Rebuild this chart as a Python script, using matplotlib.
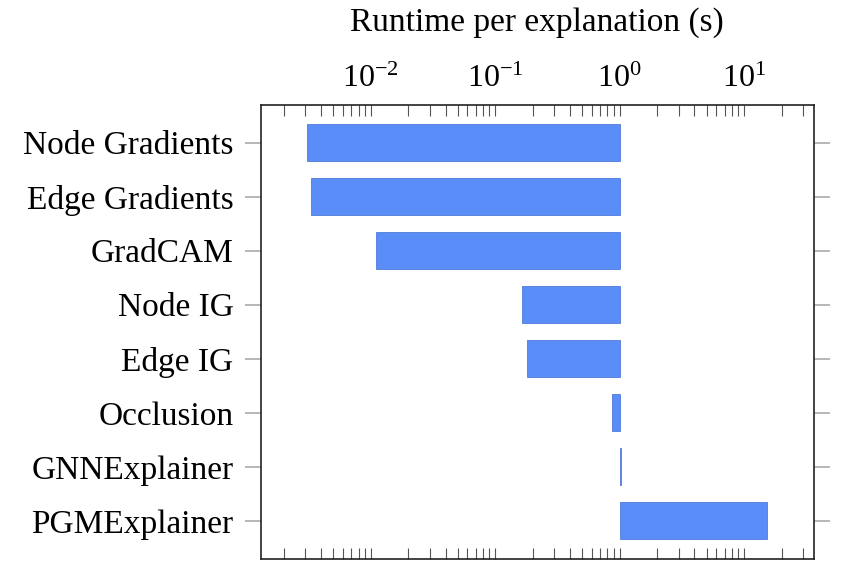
import numpy as np
import matplotlib
matplotlib.use("Agg")
import matplotlib.pyplot as plt
from matplotlib.ticker import LogLocator, NullFormatter

# runtime per explanation (s)
methods = ['Node Gradients', 'Edge Gradients', 'GradCAM', 'Node IG', 'Edge IG',
           'Occlusion', 'GNNExplainer', 'PGMExplainer']
runtimes = [0.0031, 0.0033, 0.0110, 0.164, 0.179, 0.873, 1.032, 15.3]

plt.rcParams['font.family'] = ['Liberation Serif', 'DejaVu Serif']
plt.rcParams['mathtext.fontset'] = 'cm'

fig = plt.figure(figsize=(8.45, 5.78), dpi=100)
ax = fig.add_axes([0.3085, 0.0334, 0.6545, 0.7855])

vals = np.array(runtimes)
y = np.arange(len(methods))
# bars start at 1 s and go to each value
ax.barh(y, np.abs(vals - 1), left=np.minimum(vals, 1), height=0.685,
        color='#5B8DF8', edgecolor='#4F7BD8', linewidth=0.6)

ax.set_xscale('log')
ax.set_xlim(0.00131, 36.3)
ax.set_ylim(7.7, -0.7)

ax.set_yticks(y)
ax.set_yticklabels(methods, fontsize=24)
ax.tick_params(axis='y', direction='out', length=11.5, width=1.2, color='#aaaaaa',
               left=True, right=True, pad=8)

ax.xaxis.set_major_locator(LogLocator(base=10))
ax.xaxis.set_minor_locator(LogLocator(base=10, subs=np.arange(2, 10)))
ax.xaxis.set_minor_formatter(NullFormatter())
ax.tick_params(axis='x', which='both', direction='in', length=8, width=0.8,
               color='#555555', top=True, bottom=True,
               labeltop=True, labelbottom=False, labelsize=23, pad=8)
ax.xaxis.set_label_position('top')
ax.set_xlabel('Runtime per explanation (s)', fontsize=24, labelpad=24)

for s in ax.spines.values():
    s.set_linewidth(1.2)
    s.set_color('#222222')

fig.savefig('out.png', dpi=100)
